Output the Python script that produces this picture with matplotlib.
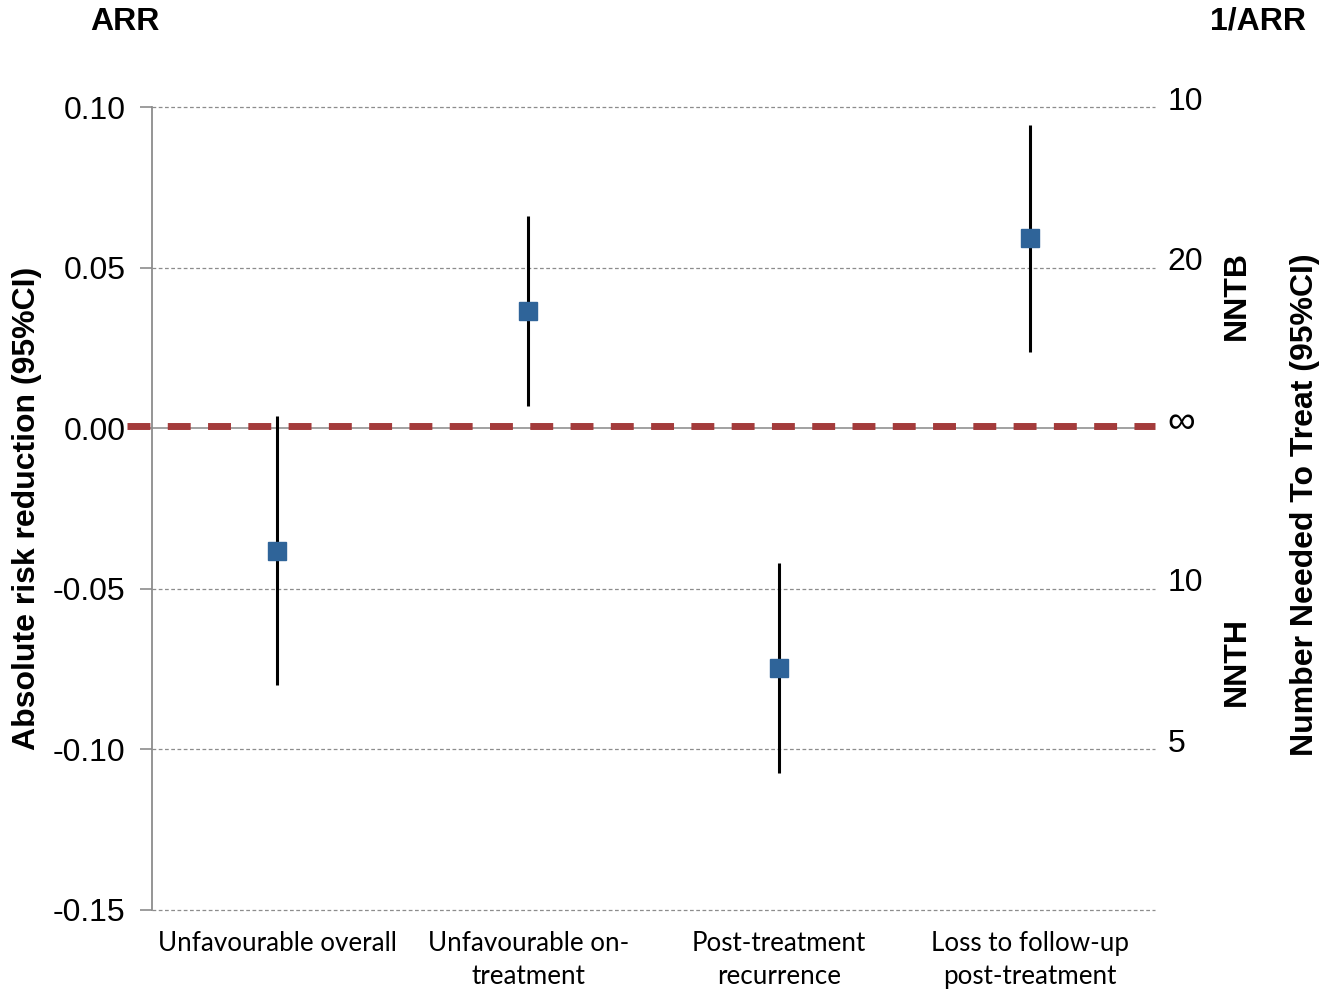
import matplotlib
matplotlib.use("Agg")
import matplotlib.pyplot as plt
from matplotlib.transforms import ScaledTranslation

# data
categories = ["Unfavourable overall", "Unfavourable on-\ntreatment",
              "Post-treatment\nrecurrence", "Loss to follow-up\npost-treatment"]
arr = [-0.0383, 0.0364, -0.0747, 0.0592]
ci_low = [-0.080, 0.0068, -0.1074, 0.0237]
ci_high = [0.0037, 0.066, -0.042, 0.0943]

left_ticks = [0.10, 0.05, 0.00, -0.05, -0.10, -0.15]
left_labels = ["0.10", "0.05", "0.00", "-0.05", "-0.10", "-0.15"]
right_ticks = [0.10, 0.05, 0.00, -0.05, -0.10]
right_labels = ["10", "20", "\u221e", "10", "5"]
ref_level = 0.0008

plt.rcParams['font.family'] = ['Liberation Sans', 'DejaVu Sans']
SANS = ['Liberation Sans', 'DejaVu Sans']

fig = plt.figure(figsize=(13.36, 9.93), dpi=100)
ax = fig.add_axes([0.1138, 0.0836, 0.7507, 0.8086])

x = list(range(len(categories)))

# gridlines
for t in left_ticks:
    if t == 0:
        continue
    ax.axhline(t, color='#8c8c8c', lw=0.9, ls=(0, (3, 2)), zorder=1, clip_on=False)
ax.axhline(0, color='#9a9a9a', lw=1.3, zorder=1)

# reference dashed line (extends slightly left of the axis)
ax.plot([-0.6, 3.5], [ref_level, ref_level], color='#a33b3b', lw=5,
        ls=(0, (3.3, 2.5)), clip_on=False, zorder=2, solid_capstyle='butt')

# CIs and point estimates
ax.vlines(x, ci_low, ci_high, color='black', lw=2.2, zorder=3)
ax.plot(x, arr, ls='none', marker='s', ms=13, color='#2f6499', zorder=4)

ax.set_xlim(-0.5, 3.5)
ax.set_ylim(-0.15, 0.10)
ax.set_yticks(left_ticks)
ax.set_yticklabels(left_labels, fontsize=23, family=SANS)
ax.set_xticks(x)
ax.set_xticklabels(categories, fontsize=18.7, family=['Lato', 'DejaVu Sans'],
                   linespacing=1.4)
ax.tick_params(axis='x', length=0, pad=15)
ax.tick_params(axis='y', length=9, width=1.2, color='#8c8c8c', pad=10)

for s in ['top', 'right', 'bottom']:
    ax.spines[s].set_visible(False)
ax.spines['left'].set_color('#8c8c8c')
ax.spines['left'].set_linewidth(1.3)

# right-hand NNT scale
ax2 = ax.twinx()
ax2.set_ylim(ax.get_ylim())
ax2.set_yticks(right_ticks)
ax2.set_yticklabels(right_labels, fontsize=23, family=SANS)
ax2.tick_params(axis='y', length=0, pad=9)
for s in ax2.spines.values():
    s.set_visible(False)
shift = ScaledTranslation(0, 9 / 100, fig.dpi_scale_trans)
for lab in ax2.get_yticklabels():
    lab.set_transform(lab.get_transform() + shift)
    if lab.get_text() == "\u221e":
        lab.set_fontsize(28)

bold = dict(fontsize=23, fontweight='bold', ha='center', va='center', family=SANS)
fig.text(27 / 1336, 1 - 508 / 993, "Absolute risk reduction (95%CI)", rotation=90, **bold)
fig.text(125 / 1336, 1 - 22 / 993, "ARR", **bold)
fig.text(1258 / 1336, 1 - 22 / 993, "1/ARR", **bold)
fig.text(1237 / 1336, 1 - 296 / 993, "NNTB", rotation=90, **bold)
fig.text(1237 / 1336, 1 - 662 / 993, "NNTH", rotation=90, **bold)
fig.text(1305 / 1336, 1 - 505 / 993, "Number Needed To Treat (95%CI)", rotation=90, **bold)

fig.savefig("out.png", dpi=100)
